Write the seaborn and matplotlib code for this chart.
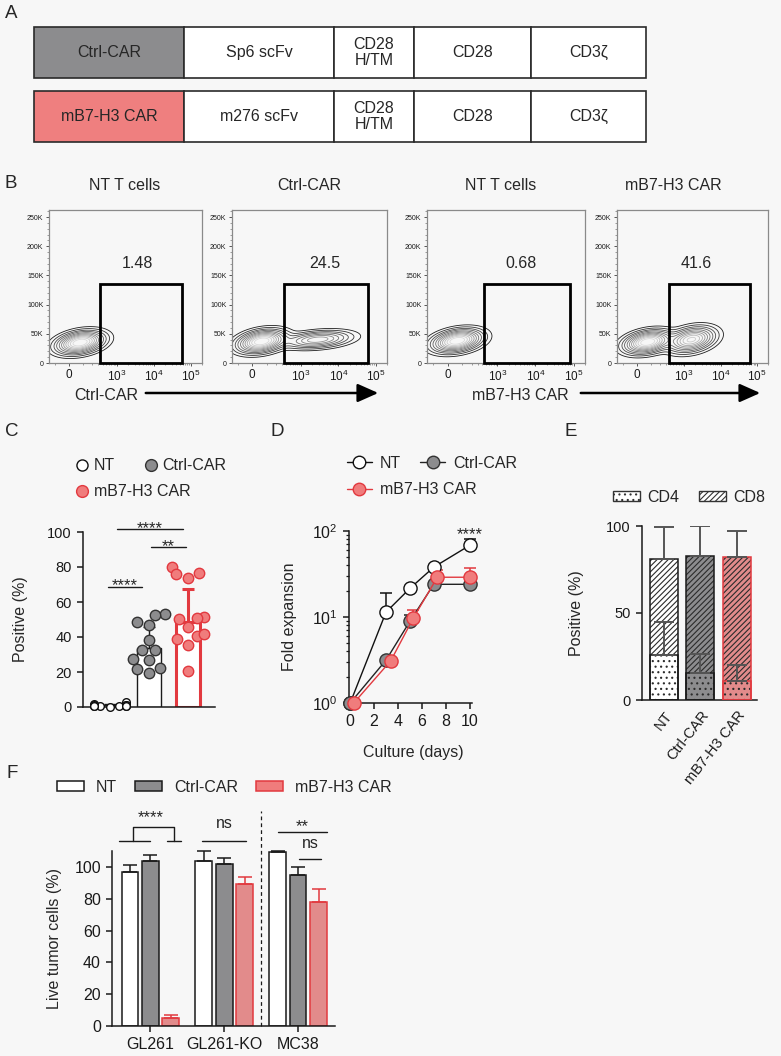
import numpy as np
import pandas as pd
import matplotlib
matplotlib.use("Agg")
import matplotlib.pyplot as plt
import seaborn as sns
from matplotlib.lines import Line2D
from matplotlib.patches import Patch, Rectangle, FancyArrowPatch
from matplotlib.ticker import FixedLocator, MultipleLocator, LogLocator, LogFormatterMathtext, NullFormatter

# --------------------------
# DATA
# --------------------------
# A: CAR constructs
car_names = ["Ctrl-CAR", "mB7-H3 CAR"]
car_scfv = ["Sp6 scFv", "m276 scFv"]
car_domains = ["CD28\nH/TM", "CD28", "CD3ζ"]

# B: flow plots (populations given as centre on the biex axis in decades, PE height, spreads, weight)
flow_titles = ["NT T cells", "Ctrl-CAR", "NT T cells", "mB7-H3 CAR"]
flow_pct = ["1.48", "24.5", "0.68", "41.6"]
flow_xlabels = ["Ctrl-CAR", "mB7-H3 CAR"]
flow_pop_x = [[0.30], [0.25, 1.75], [0.25], [0.30, 1.50]]
flow_pop_y = [[35e3], [37e3, 40e3], [38e3], [36e3, 40e3]]
flow_pop_sx = [[0.30], [0.30, 0.42], [0.30], [0.30, 0.30]]
flow_pop_sy = [[9e3], [9e3, 7e3], [9e3], [9e3, 10e3]]
flow_pop_w = [[1.0], [1.0, 0.45], [1.0], [1.0, 0.75]]
flow_gate_lo = [340, 340, 440, 375]
flow_gate_hi = [56000, 63000, 79000, 66000]
flow_gate_top = 135e3

# C: transduction efficiency
c_groups = ["NT", "Ctrl-CAR", "mB7-H3 CAR"]
c_nt = [3.0, 1.5, 1.0, 0.5, 0.5, 0.3, 1.0, 0.8, 0.5, 1.2, 0.2, 0.6]
c_ctrl = [53.0, 52.8, 48.8, 47.0, 38.5, 32.8, 32.4, 27.4, 27.0, 22.3, 21.7, 19.4]
c_b7h3 = [80.0, 76.6, 76.0, 73.7, 51.4, 50.3, 50.9, 46.0, 40.4, 41.9, 38.9, 35.6, 20.8]
c_mean = [1.0, 33.7, 48.6]
c_sd = [1.0, 12.0, 19.0]

# D: expansion
d_days = [0, 3, 5, 7, 10]
d_days_b7 = [0.3, 3.4, 5.3, 7.3, 10]
d_nt = [1.0, 11.4, 21.5, 38.0, 68.0]
d_nt_err = [0, 7.5, 0, 0, 13]
d_ctrl = [1.0, 3.15, 8.9, 24.0, 24.0]
d_ctrl_err = [0, 0, 1.6, 0, 0]
d_b7 = [1.0, 3.1, 9.8, 29.0, 29.0]
d_b7_err = [0, 0, 2.3, 6, 8]

# E: CD4 / CD8
e_groups = ["NT", "Ctrl-CAR", "mB7-H3 CAR"]
e_cd4 = [26.0, 15.5, 11.0]
e_cd4_sd = [19.0, 11.0, 9.0]
e_cd8 = [55.0, 67.5, 71.0]
e_cd8_sd = [18.5, 17.0, 15.0]

# F: cytotoxicity
f_lines = ["GL261", "GL261-KO", "MC38"]
f_cars = ["NT", "Ctrl-CAR", "mB7-H3 CAR"]
f_nt = [97.0, 104.0, 109.3]
f_nt_sd = [4.0, 6.0, 0.8]
f_ctrl = [103.7, 101.7, 95.0]
f_ctrl_sd = [4.0, 4.0, 5.0]
f_b7 = [4.8, 89.3, 78.0]
f_b7_sd = [2.2, 4.6, 8.0]

# --------------------------
# STYLE
# --------------------------
BG = "#f7f7f7"
GRAY = "#8c8c8e"
RED = "#f07c7c"
RED_EDGE = "#e2393f"
INK = "#1a1a1a"

sns.set_style("ticks")
plt.rcParams.update({
    "font.family": ["Liberation Sans", "DejaVu Sans"],
    "mathtext.default": "regular",
    "figure.facecolor": BG, "axes.facecolor": BG, "savefig.facecolor": BG,
    "axes.edgecolor": INK, "axes.linewidth": 1.1,
    "xtick.color": INK, "ytick.color": INK,
    "xtick.major.width": 1.1, "ytick.major.width": 1.1,
    "xtick.major.size": 4.5, "ytick.major.size": 4.5,
    "hatch.linewidth": 0.8,
})

W, H = 781, 1056
fig = plt.figure(figsize=(W / 100, H / 100), dpi=100)


def add_ax(x0, y0, x1, y1):
    return fig.add_axes([x0 / W, 1 - y1 / H, (x1 - x0) / W, (y1 - y0) / H])


def ftext(x, y, s, **kw):
    fig.text(x / W, 1 - y / H, s, **kw)


def sig(ax, x0, x1, y, txt, dy, fs=12):
    ax.plot([x0, x1], [y, y], color=INK, lw=1, clip_on=False)
    ax.annotate(txt, ((x0 + x1) / 2, y), xytext=(0, dy), textcoords="offset points",
                ha="center", va="center", fontsize=fs, annotation_clip=False)


for lab, x, y in [("A", 5, 13), ("B", 5, 183), ("C", 5, 431), ("D", 271, 431), ("E", 565, 431), ("F", 6, 773)]:
    ftext(x, y, lab, fontsize=13.5, ha="left", va="center")

# --------------------------
# A. CONSTRUCTS
# --------------------------
axA = add_ax(34, 27, 646, 142)
seg_w = [150, 150, 79, 117, 115]
lefts = np.cumsum([0] + seg_w[:-1])
for row, (name, scfv, col) in enumerate(zip(car_names, car_scfv, [GRAY, "#ef7f7f"])):
    labels = [name, scfv] + car_domains
    axA.barh([row] * 5, seg_w, left=lefts, height=0.785, color=[col] + ["white"] * 4,
             edgecolor="#2a2a2a", linewidth=1.2, clip_on=False)
    for l, w, t in zip(lefts, seg_w, labels):
        axA.text(l + w / 2, row, t, ha="center", va="center", fontsize=11.5, linespacing=1.05)
axA.set_xlim(0, sum(seg_w))
axA.set_ylim(1.395, -0.395)
axA.axis("off")

# --------------------------
# B. FLOW PLOTS
# --------------------------
def fwd(x):
    return np.arcsinh(np.asarray(x, dtype=float) / 100.0) / np.log(10)


def inv(f):
    return 100.0 * np.sinh(np.asarray(f, dtype=float) * np.log(10))


flow_rects = [(49, 202), (232, 387), (427, 585), (617, 768)]
pct_f = [1.84, 1.95, 1.92, 1.62]
title_x = [125, 309, 501, 673]
fgrid = np.linspace(-0.7, 3.7, 300)
ygrid = np.linspace(0, 262144, 300)
FF, YY = np.meshgrid(fgrid, ygrid)
levels = [0.015, 0.04, 0.08, 0.13, 0.2, 0.28, 0.37, 0.47, 0.58, 0.7, 0.83]
lev_cols = [plt.cm.Greys(v) for v in np.linspace(0.9, 0.25, len(levels))]
x_minor = [-100] + [100 * k for k in range(1, 10)] + [1000 * k for k in range(2, 10)] + \
          [10000 * k for k in range(2, 10)] + [200000]

for i, (x0, x1) in enumerate(flow_rects):
    ax = add_ax(x0, 210, x1, 363)
    ax.set_xscale("function", functions=(fwd, inv))
    Z = np.zeros_like(FF)
    for cx, cy, sx, sy, w in zip(flow_pop_x[i], flow_pop_y[i], flow_pop_sx[i], flow_pop_sy[i], flow_pop_w[i]):
        u = (FF - cx) / sx
        v = (YY - cy) / sy
        Z += w * np.exp(-0.5 * (u ** 2 + v ** 2 - 0.6 * u * v))
    Z /= Z.max()
    ax.contour(inv(FF), YY, Z, levels=levels, colors=lev_cols, linewidths=0.6)
    ax.add_patch(Rectangle((flow_gate_lo[i], 0), flow_gate_hi[i] - flow_gate_lo[i], flow_gate_top,
                           fill=False, ec="black", lw=2.0, clip_on=False, zorder=5))
    ax.text(inv(pct_f[i]), 171e3, flow_pct[i], ha="center", va="center", fontsize=11.5)
    ax.set_xlim(-160, 2.0e5)
    ax.set_ylim(0, 262144)
    ax.set_xticks([0, 1e3, 1e4, 1e5])
    ax.set_xticklabels(["0", "$10^3$", "$10^4$", "$10^5$"], fontsize=8.5)
    ax.xaxis.set_minor_locator(FixedLocator(x_minor))
    ax.set_yticks([0, 50e3, 100e3, 150e3, 200e3, 250e3])
    ax.set_yticklabels(["0", "50K", "100K", "150K", "200K", "250K"], fontsize=5)
    ax.yaxis.set_minor_locator(MultipleLocator(10e3))
    ax.tick_params(which="major", length=2.5, width=0.7, color="#555", pad=1.5)
    ax.tick_params(which="minor", length=1.5, width=0.5, color="#777")
    for s in ax.spines.values():
        s.set_color("#8a8a8a")
        s.set_linewidth(0.9)
    ftext(title_x[i], 185, flow_titles[i], ha="center", va="center", fontsize=11.5)

for lab, tx, a0, a1 in [(flow_xlabels[0], 106, 143, 381), (flow_xlabels[1], 520, 578, 763)]:
    ftext(tx, 395, lab, ha="center", va="center", fontsize=11.5)
    fig.add_artist(FancyArrowPatch((a0 / W, 1 - 393 / H), (a1 / W, 1 - 393 / H), transform=fig.transFigure,
                                   arrowstyle="-|>,head_length=0.9,head_width=0.4", mutation_scale=14,
                                   lw=1.8, color="black"))

# --------------------------
# C. TRANSDUCTION
# --------------------------
axC = add_ax(83, 532, 215, 707)
dfc = pd.DataFrame({"group": c_groups, "mean": c_mean})
sns.barplot(data=dfc, x="group", y="mean", hue="group", palette=["white"] * 3, width=0.62,
            legend=False, ax=axC, zorder=1)
for p, ec, lw in zip(axC.patches, [INK, INK, RED_EDGE], [1.0, 1.0, 2.2]):
    p.set_edgecolor(ec)
    p.set_linewidth(lw)
for xi, (m, s, ec, lw) in enumerate(zip(c_mean, c_sd, [INK, INK, RED_EDGE], [1.0, 1.0, 2.2])):
    axC.errorbar(xi, m, yerr=[[0], [s]], fmt="none", ecolor=ec, elinewidth=lw, capsize=4.5,
                 capthick=lw, zorder=2)
pts = pd.DataFrame({"group": ["NT"] * len(c_nt) + ["Ctrl-CAR"] * len(c_ctrl) + ["mB7-H3 CAR"] * len(c_b7h3),
                    "value": c_nt + c_ctrl + c_b7h3})
for g, fc, ec, sz in [("NT", "white", "#111", 5.5), ("Ctrl-CAR", GRAY, "#333", 7.5),
                      ("mB7-H3 CAR", RED, RED_EDGE, 7.5)]:
    sns.swarmplot(data=pts[pts.group == g], x="group", y="value", order=c_groups, color=fc,
                  edgecolor=ec, linewidth=1.0, size=sz, ax=axC, zorder=3)
for c in axC.collections:
    c.set_clip_on(False)
axC.set_xlim(-0.69, 2.69)
axC.set_ylim(0, 100)
axC.set_yticks([0, 20, 40, 60, 80, 100])
axC.set_xticks([])
axC.set_xlabel("")
axC.set_ylabel("Positive (%)", fontsize=11.5)
axC.yaxis.set_label_coords(-0.42, 0.5)
axC.tick_params(axis="y", labelsize=10.5)
sns.despine(ax=axC)
sig(axC, 0.18, 1.87, 101.7, "****", 0.3)
sig(axC, 1.05, 1.95, 91.4, "**", 0.3)
sig(axC, -0.05, 0.82, 68.6, "****", 1.2)

h_nt = Line2D([], [], marker="o", ls="none", mfc="white", mec="#111", ms=8, mew=1)
h_ctrl = Line2D([], [], marker="o", ls="none", mfc=GRAY, mec="#333", ms=8.5, mew=1)
h_b7 = Line2D([], [], marker="o", ls="none", mfc=RED, mec=RED_EDGE, ms=8.5, mew=1)
leg_kw = dict(frameon=False, fontsize=11.5, borderpad=0, borderaxespad=0, loc="center left")
fig.legend([h_nt, h_ctrl], ["NT", "Ctrl-CAR"], ncol=2, handlelength=0.8, handletextpad=0.3,
           columnspacing=1.85, bbox_to_anchor=(76 / W, 1 - 466 / H), **leg_kw)
fig.legend([h_b7], ["mB7-H3 CAR"], handlelength=0.8, handletextpad=0.3,
           bbox_to_anchor=(76 / W, 1 - 492 / H), **leg_kw)

# --------------------------
# D. EXPANSION
# --------------------------
axD = add_ax(349, 531, 472, 703)
axD.set_yscale("log")
series = [(d_days, d_nt, d_nt_err, "white", "#111", "#111"),
          (d_days, d_ctrl, d_ctrl_err, GRAY, "#333", "#222"),
          (d_days_b7, d_b7, d_b7_err, RED, RED_EDGE, RED_EDGE)]
for days, vals, err, fc, ec, lc in series:
    axD.errorbar(days, vals, yerr=[np.zeros(len(err)), err], fmt="none", ecolor=lc, elinewidth=1.1,
                 capsize=4.3, capthick=1.1, zorder=2, clip_on=False)
    sns.lineplot(x=days, y=vals, ax=axD, color=lc, lw=1.0, marker="o", markersize=9.5,
                 markerfacecolor=fc, markeredgecolor=ec, markeredgewidth=1.0, zorder=3, legend=False)
for ln in axD.lines:
    ln.set_clip_on(False)
axD.set_xlim(-0.1, 10.2)
axD.set_ylim(1, 100)
axD.set_xticks([0, 2, 4, 6, 8, 10])
axD.yaxis.set_major_locator(LogLocator(base=10, numticks=5))
axD.yaxis.set_major_formatter(LogFormatterMathtext())
axD.yaxis.set_minor_locator(LogLocator(base=10, subs=np.arange(2, 10), numticks=20))
axD.yaxis.set_minor_formatter(NullFormatter())
axD.tick_params(axis="y", which="minor", length=2.5, width=0.9)
axD.tick_params(labelsize=11.5)
axD.set_xlabel("Culture (days)", fontsize=11.5)
axD.set_ylabel("Fold expansion", fontsize=11.5)
axD.xaxis.set_label_coords(0.52, -0.245)
axD.yaxis.set_label_coords(-0.42, 0.5)
sns.despine(ax=axD)
axD.annotate("****", (10, 100), xytext=(0, -2.7), textcoords="offset points", ha="center",
             va="center", fontsize=12, annotation_clip=False)

hd_nt = Line2D([], [], color="#111", lw=1, marker="o", mfc="white", mec="#111", ms=9)
hd_ctrl = Line2D([], [], color="#222", lw=1, marker="o", mfc=GRAY, mec="#333", ms=9)
hd_b7 = Line2D([], [], color=RED_EDGE, lw=1, marker="o", mfc=RED, mec=RED_EDGE, ms=9)
fig.legend([hd_nt, hd_ctrl], ["NT", "Ctrl-CAR"], ncol=2, handlelength=1.56, handletextpad=0.5,
           columnspacing=1.2, bbox_to_anchor=(347 / W, 1 - 463 / H), **leg_kw)
fig.legend([hd_b7], ["mB7-H3 CAR"], handlelength=1.56, handletextpad=0.5,
           bbox_to_anchor=(347 / W, 1 - 490 / H), **leg_kw)

# --------------------------
# E. CD4 / CD8
# --------------------------
axE = add_ax(642, 526, 757, 700)
e_cols = ["white", GRAY, RED]
e_edges = [INK, INK, RED_EDGE]
dfe = pd.DataFrame({"group": e_groups, "total": np.add(e_cd4, e_cd8), "cd4": e_cd4})
sns.barplot(data=dfe, x="group", y="total", hue="group", palette=e_cols, width=0.77, hatch="//////",
            edgecolor="#2b2b2b", linewidth=0, legend=False, ax=axE)
sns.barplot(data=dfe, x="group", y="cd4", hue="group", palette=e_cols, width=0.77, hatch="...",
            edgecolor="#2b2b2b", linewidth=0, legend=False, ax=axE)
for p, ec in zip(axE.patches, e_edges + e_edges):
    axE.add_patch(Rectangle(p.get_xy(), p.get_width(), p.get_height(), fill=False, ec=ec, lw=1.1, zorder=3))
tot = np.add(e_cd4, e_cd8)
for xi in range(3):
    axE.errorbar(xi, tot[xi], yerr=[[0], [e_cd8_sd[xi]]], fmt="none", ecolor="#555", elinewidth=1.4,
                 capsize=7.5, capthick=1.4, zorder=4)
    axE.errorbar(xi, e_cd4[xi], yerr=[[0], [e_cd4_sd[xi]]], fmt="none", ecolor="#555", elinewidth=1.4,
                 capsize=7.5, capthick=1.4, zorder=4)
axE.set_xlim(-0.6, 2.55)
axE.set_ylim(0, 100)
axE.set_yticks([0, 50, 100])
axE.set_xticks([0, 1, 2])
axE.set_xticklabels(e_groups, rotation=52, ha="right", rotation_mode="anchor", fontsize=10.5)
axE.tick_params(axis="x", length=0, pad=6)
axE.tick_params(axis="y", labelsize=10.5)
axE.set_xlabel("")
axE.set_ylabel("Positive (%)", fontsize=11.5)
axE.yaxis.set_label_coords(-0.5, 0.5)
sns.despine(ax=axE)
he4 = Patch(facecolor="white", edgecolor="#333", hatch="...", lw=1)
he8 = Patch(facecolor="white", edgecolor="#333", hatch="//////", lw=1)
fig.legend([he4, he8], ["CD4", "CD8"], ncol=2, handlelength=1.7, handleheight=0.6, handletextpad=0.45,
           columnspacing=1.2, bbox_to_anchor=(613 / W, 1 - 497 / H), **leg_kw)

# --------------------------
# F. CYTOTOXICITY
# --------------------------
axF = add_ax(112, 851, 335, 1026)
dff = pd.DataFrame({"line": f_lines * 3,
                    "car": [c for c in f_cars for _ in f_lines],
                    "val": f_nt + f_ctrl + f_b7,
                    "sd": f_nt_sd + f_ctrl_sd + f_b7_sd})
f_pal = {"NT": "white", "Ctrl-CAR": GRAY, "mB7-H3 CAR": RED}
f_edge = {"NT": INK, "Ctrl-CAR": INK, "mB7-H3 CAR": RED_EDGE}
sns.barplot(data=dff, x="line", y="val", hue="car", order=f_lines, hue_order=f_cars, palette=f_pal,
            width=0.83, gap=0.18, edgecolor=INK, linewidth=1.1, legend=False, ax=axF)
for p in axF.patches:
    row = dff.iloc[int(np.argmin(np.abs(dff["val"].values - p.get_height())))]
    p.set_edgecolor(f_edge[row["car"]])
    axF.errorbar(p.get_x() + p.get_width() / 2, row["val"], yerr=[[0], [row["sd"]]], fmt="none",
                 ecolor=f_edge[row["car"]], elinewidth=1.1, capsize=5, capthick=1.1, zorder=3,
                 clip_on=False)
axF.plot([1.5, 1.5], [0, 135], ls=(0, (3, 2.5)), color=INK, lw=0.9, clip_on=False)
axF.set_xlim(-0.52, 2.5)
axF.set_ylim(0, 110)
axF.set_yticks([0, 20, 40, 60, 80, 100])
axF.tick_params(labelsize=11.5)
axF.set_xlabel("")
axF.set_ylabel("Live tumor cells (%)", fontsize=11.5)
axF.yaxis.set_label_coords(-0.224, 0.5)
sns.despine(ax=axF)
# significance
axF.plot([-0.43, -0.01], [116, 116], color=INK, lw=1, clip_on=False)
axF.plot([0.23, 0.42], [116, 116], color=INK, lw=1, clip_on=False)
axF.plot([-0.23, -0.23, 0.32, 0.32], [116, 124.9, 124.9, 116], color=INK, lw=1, clip_on=False)
axF.annotate("****", (0.0, 124.9), xytext=(0, 6.7), textcoords="offset points", ha="center",
             va="center", fontsize=12, annotation_clip=False)
sig(axF, 0.70, 1.30, 116, "ns", 13, fs=11.5)
sig(axF, 1.73, 2.39, 121.8, "**", 3.8)
sig(axF, 2.01, 2.31, 104.7, "ns", 11.5, fs=11.5)

hf = [Patch(facecolor=f_pal[c], edgecolor=f_edge[c], lw=1.1) for c in f_cars]
fig.legend(hf, f_cars, ncol=3, handlelength=1.7, handleheight=0.6, handletextpad=0.75,
           columnspacing=1.1, bbox_to_anchor=(57 / W, 1 - 787 / H), **leg_kw)

fig.savefig("out.png", dpi=100)
